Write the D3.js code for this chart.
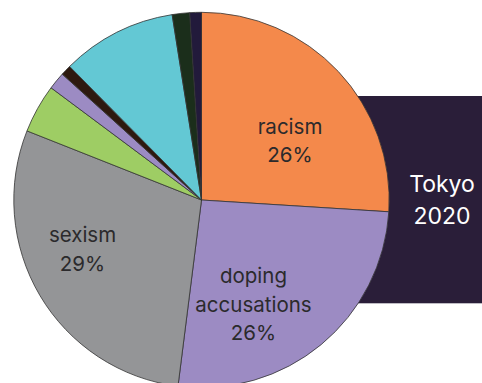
<!DOCTYPE html>
<html>
<head>
<meta charset="utf-8">
<script src="https://cdn.jsdelivr.net/npm/d3@7"></script>
<style>
  html, body { margin: 0; padding: 0; background: #ffffff; }
  svg { display: block; }
</style>
</head>
<body>
<svg id="chart" width="482" height="383"></svg>
<script>
// Types of online abuse, Tokyo 2020 (share of posts, %)
const categories = ["racism", "doping accusations", "sexism", "other 1", "other 2", "other 3", "other 4", "other 5", "other 6"];
const shares     = [26, 26, 29, 4.2, 1.5, 0.9, 9.9, 1.5, 1.0];
const sliceColors = ["#f4894b", "#9c8bc3", "#949597", "#9ecd64", "#9c8bc3", "#2d190f", "#63c8d4", "#1b2e1b", "#221a3b"];

// Slices that carry a text label: category index and the words on each line
const labelled = [
  { index: 0, lines: ["racism"] },
  { index: 1, lines: ["doping", "accusations"] },
  { index: 2, lines: ["sexism"] }
];
const panelTitle = ["Tokyo", "2020"];

const svg = d3.select("#chart");
const W = 482, H = 383;
const cx = 201.5, cy = 200, R = 187.7;

// Dark panel sitting behind the right edge of the pie
svg.append("rect")
  .attr("x", 357.7).attr("y", 96)
  .attr("width", W - 357.7).attr("height", 207.3)
  .attr("fill", "#2a1e39");

svg.append("text")
  .attr("x", 442).attr("y", 191.7)
  .attr("text-anchor", "middle")
  .attr("font-family", "Inter, 'Noto Sans', sans-serif")
  .attr("font-size", 23)
  .attr("fill", "#ffffff")
  .selectAll("tspan")
  .data(panelTitle)
  .join("tspan")
  .attr("x", 442)
  .attr("dy", (d, i) => i === 0 ? 0 : 32.3)
  .text(d => d);

// Pie, starting at 12 o'clock and running clockwise in data order
const pie = d3.pie().sort(null).value(d => d);
const arcs = pie(shares);
const arc = d3.arc().innerRadius(0).outerRadius(R);

const g = svg.append("g").attr("transform", `translate(${cx},${cy})`);

g.selectAll("path.slice")
  .data(arcs)
  .join("path")
  .attr("class", "slice")
  .attr("d", arc)
  .attr("fill", (d, i) => sliceColors[i])
  .attr("stroke", "#333333")
  .attr("stroke-width", 0.8)
  .attr("stroke-linejoin", "round");

// Label placement: offset of the first baseline from the pie centre, and line step
const labelLayout = [
  { dx: 88.5,   dy: -65.7, step: 27.4 },
  { dx: 52,     dy: 83.3,  step: 28.3 },
  { dx: -119,   dy: 41.7,  step: 29.3 }
];

labelled.forEach((lab, k) => {
  const L = labelLayout[k];
  const lines = lab.lines.concat([`${shares[lab.index]}%`]);
  const t = g.append("text")
    .attr("x", L.dx).attr("y", L.dy)
    .attr("text-anchor", "middle")
    .attr("font-family", "Inter, 'Noto Sans', sans-serif")
    .attr("font-size", 20.5)
    .attr("fill", "#2b2a2c");
  t.selectAll("tspan")
    .data(lines)
    .join("tspan")
    .attr("x", L.dx)
    .attr("dy", (d, i) => i === 0 ? 0 : L.step)
    .text(d => d);
});
</script>
</body>
</html>
